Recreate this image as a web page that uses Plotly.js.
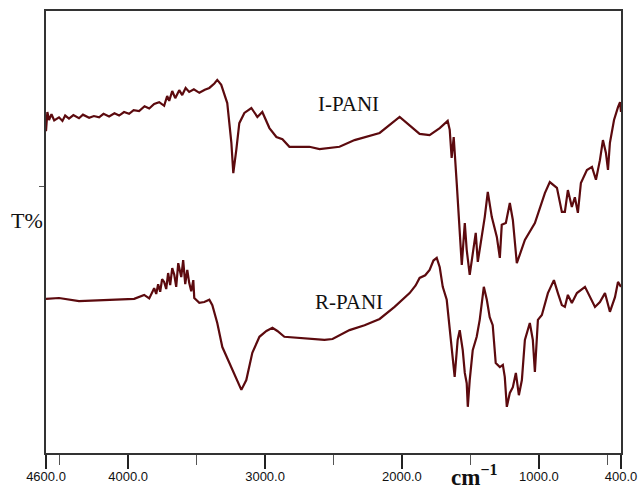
<!DOCTYPE html>
<html>
<head>
<meta charset="utf-8">
<script src="https://cdn.plot.ly/plotly-3.0.1.min.js"></script>
<style>html,body{margin:0;padding:0;background:#fff;}#chart{width:642px;height:489px;}</style>
</head>
<body>
<div id="chart"></div>
<script>
// I-PANI spectrum (wavenumber cm-1, transmittance arbitrary %)
const iWave = [4600,4590,4578,4560,4540,4505,4480,4460,4432,4400,4359,4330,4285,4250,4212,4180,4139,4100,4066,4030,3993,3960,3920,3880,3846,3810,3773,3737,3715,3700,3678,3656,3627,3605,3580,3554,3520,3480,3440,3407,3370,3349,3320,3276,3246,3232,3210,3188,3151,3100,3056,3020,2968,2917,2873,2822,2749,2676,2602,2529,2456,2346,2163,2017,1944,1871,1798,1724,1666,1651,1637,1622,1600,1578,1563,1541,1527,1505,1461,1446,1395,1373,1344,1307,1285,1271,1241,1212,1190,1161,1102,1029,956,920,868,832,810,788,759,737,715,693,649,612,583,554,532,510,495,481,451,422,407,400];
const iT    = [73.5,77.8,76.0,77.3,75.9,76.6,75.8,77.0,76.3,77.1,76.4,77.2,76.5,76.9,76.6,77.4,76.8,77.5,77.0,77.8,77.4,78.2,78.0,79.1,78.6,79.6,80.0,79.2,81.4,80.3,82.5,80.9,82.7,81.6,83.2,82.3,82.9,82.1,82.8,83.2,84.2,85.0,83.9,79.8,70.9,64.1,69.3,75.3,77.6,78.7,76.7,77.8,74.2,72.2,71.7,70.0,70.0,70.0,69.5,69.7,70.0,71.5,73.1,76.7,74.9,72.9,72.6,74.2,75.8,73.8,67.5,72.2,61.9,52.0,43.5,52.9,46.9,41.3,50.7,44.2,54.3,59.9,54.3,49.8,45.1,52.5,52.9,57.4,53.6,43.9,49.1,52.9,59.6,62.1,60.8,55.4,55.4,60.3,56.5,58.7,55.2,61.9,64.8,65.5,62.6,67.0,71.5,68.6,64.8,70.9,76.0,78.9,80.0,77.8];

// R-PANI spectrum
const rWave = [4600,4505,4359,4139,3956,3883,3846,3810,3795,3781,3766,3752,3737,3722,3708,3693,3678,3663,3649,3634,3612,3598,3583,3568,3554,3539,3524,3517,3480,3444,3407,3385,3349,3312,3261,3210,3173,3137,3093,3041,2990,2946,2910,2859,2749,2639,2566,2507,2383,2273,2163,2054,1944,1900,1871,1830,1798,1770,1746,1724,1702,1673,1651,1629,1615,1593,1578,1556,1541,1527,1519,1505,1483,1454,1432,1402,1380,1359,1337,1315,1285,1263,1249,1234,1212,1190,1168,1146,1124,1102,1066,1044,1029,1007,978,934,890,861,832,810,788,759,722,663,627,590,554,517,481,444,422,400];
const rT    = [35.9,36.1,35.4,35.7,35.9,36.8,36.0,38.3,37.0,39.2,37.5,40.3,39.7,38.1,41.7,39.0,42.8,41.3,38.6,43.9,40.8,44.6,39.2,42.4,39.5,37.6,40.1,36.1,35.0,35.2,35.7,34.5,30.5,25.1,21.5,17.7,15.5,17.7,23.8,27.4,28.7,29.4,28.7,27.4,27.1,26.9,26.7,26.9,28.9,30.0,31.4,34.1,37.2,38.9,40.6,41.2,42.4,44.5,45.1,43.0,38.6,35.7,29.6,22.9,18.4,26.7,28.9,24.4,19.3,17.0,11.7,17.7,24.4,27.4,31.2,38.6,35.7,31.8,30.0,21.5,20.6,21.1,18.4,11.7,14.8,16.1,19.3,14.3,17.7,26.7,30.5,26.7,19.5,31.2,32.3,37.2,40.1,37.2,34.5,34.1,36.8,35.0,37.2,38.6,36.3,34.1,35.2,37.2,33.0,36.3,39.7,38.6];

const majorTicks = [4600,4000,3000,2000,1000,400];
const majorLabels = ['4600.0','4000.0','3000.0','2000.0','1000.0','400.0'];
const minorTicks = [4500,3500,2500,1500,500];
const seriesNames = ['I-PANI','R-PANI'];

const lineStyle = {color:'#5c0a0e', width:2.2};
const traces = [
  {x:iWave, y:iT, type:'scatter', mode:'lines', name:seriesNames[0], line:lineStyle, hoverinfo:'skip'},
  {x:rWave, y:rT, type:'scatter', mode:'lines', name:seriesNames[1], line:lineStyle, hoverinfo:'skip'}
];

const serif = 'Liberation Serif, Times New Roman, serif';
// plot frame in pixels
const L = 46, R = 621, T = 11, B = 453;
// annotation positions given in pixels, converted to paper coords below
const anns = [
  {text:seriesNames[0], px:348, py:104, size:21},
  {text:seriesNames[1], px:349, py:302, size:21},
  {text:'T%', px:27, py:220, size:22},
  {text:'<b>cm</b><sup><b>−1</b></sup>', px:474, py:475, size:23}
];
const layout = {
  width:642, height:489,
  margin:{l:L, r:642-R, t:T, b:489-B, pad:0},
  paper_bgcolor:'#fff', plot_bgcolor:'#fff',
  showlegend:false,
  xaxis:{
    range:[4600,400], showgrid:false, zeroline:false,
    showline:true, mirror:true, linecolor:'#333', linewidth:2,
    tickmode:'array', tickvals:majorTicks, ticktext:majorLabels,
    ticks:'outside', ticklen:14, tickwidth:2, tickcolor:'#222',
    ticklabelstandoff:-4,
    tickfont:{family:'Liberation Sans Narrow, Arial Narrow, Liberation Sans, Arial, sans-serif', size:13, color:'#111'},
    minor:{tickvals:minorTicks, ticks:'outside', ticklen:10, tickwidth:1, tickcolor:'#555'}
  },
  yaxis:{
    range:[(459-B)/4.46, (459-T)/4.46], showgrid:false, zeroline:false,
    showline:true, mirror:true, linecolor:'#333', linewidth:2,
    tickmode:'array', tickvals:[61.2], showticklabels:false,
    ticks:'outside', ticklen:5, tickwidth:1, tickcolor:'#555'
  },
  annotations: anns.map(a=>({
    text:a.text, xref:'paper', yref:'paper',
    x:(a.px-L)/(R-L), y:(B-a.py)/(B-T),
    xanchor:'center', yanchor:'middle', showarrow:false,
    font:{family:serif, size:a.size, color:'#111'}
  }))
};
Plotly.newPlot('chart', traces, layout, {staticPlot:true, displayModeBar:false});
</script>
</body>
</html>
